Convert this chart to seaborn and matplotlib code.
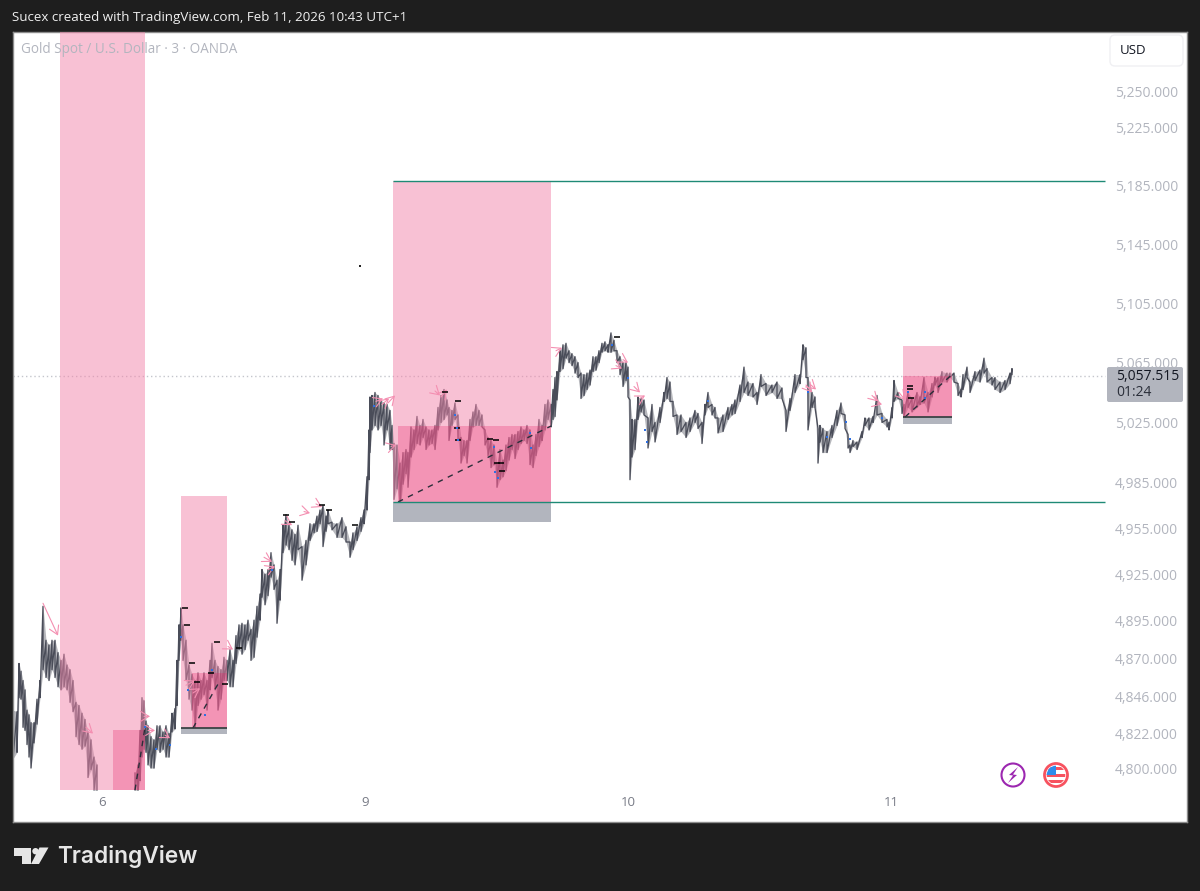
import matplotlib
matplotlib.use("Agg")
import matplotlib.pyplot as plt
from matplotlib.patches import Circle, FancyBboxPatch, Polygon, Rectangle, Wedge
from matplotlib.ticker import FixedLocator, FuncFormatter, NullLocator
import numpy as np
import pandas as pd
import seaborn as sns

# Chart columns, high and low of each column
bars = [13,17,19,21,23,25,27,29,31,34,
        37,40,43,46,49,52,55,58,61,64,
        67,70,73,76,79,82,85,88,91,94,
        97,135,138,140,142,144,146,148,151,154,
        157,160,163,166,169,172,175,177,179,181,
        183,186,189,192,195,198,201,204,207,210,
        212,215,218,221,224,227,230,233,236,239,
        242,245,248,251,254,257,260,262,265,268,
        271,274,277,280,283,286,289,292,295,298,
        302,306,310,314,317,320,323,326,328,332,
        337,342,346,350,353,357,361,364,367,369,
        370,372,375,378,381,384,387,390,392,394,
        397,400,403,406,408,411,414,417,420,423,
        426,429,432,435,438,441,444,447,449,452,
        455,458,461,464,467,470,473,476,479,482,
        485,488,491,494,497,500,503,506,509,512,
        515,518,521,524,527,530,533,536,539,542,
        545,548,551,553,555,557,560,563,566,569,
        572,575,578,581,584,587,590,593,596,599,
        602,605,608,611,614,617,620,623,626,628,
        630,632,635,638,641,644,648,652,655,660,
        664,667,670,673,677,681,686,690,695,698,
        702,705,708,712,715,718,723,728,732,735,
        740,744,748,753,757,761,766,772,777,782,
        786,790,795,800,803,806,808,812,815,818,
        820,823,827,832,837,841,845,848,850,853,
        857,862,865,869,873,877,882,887,889,892,
        894,898,902,904,908,912,917,920,924,928,
        932,935,938,942,947,950,954,958,961,963,
        967,970,975,980,984,987,992,995,1000,1005,
        1010,1012]
highs = [4837,4836,4867,4862,4856,4850,4837,4834,4829,4829,
         4844,4856,4904,4882,4879,4882,4882,4874,4869,4873,
         4866,4863,4856,4842,4840,4835,4831,4823,4818,4807,
         4802,4797,4802,4824,4845,4843,4830,4827,4820,4818,
         4827,4827,4823,4827,4822,4835,4838,4869,4892,4903,
         4892,4882,4866,4860,4856,4861,4856,4861,4856,4869,
         4880,4869,4865,4863,4871,4869,4876,4869,4885,4892,
         4893,4892,4895,4889,4895,4904,4912,4928,4925,4928,
         4939,4931,4921,4928,4957,4964,4957,4954,4951,4957,
         4943,4947,4958,4958,4963,4967,4970,4963,4967,4959,
         4958,4962,4956,4946,4952,4956,4962,4967,4989,5020,
         5042,5043,5045,5043,5040,5038,5037,5033,5023,5011,
         5010,4998,5005,5007,5005,5022,5020,5029,5023,5027,
         5022,5020,5020,5023,5035,5043,5047,5040,5035,5033,
         5038,5030,5015,5013,5013,5027,5032,5037,5033,5030,
         5020,5015,5013,5010,4998,5007,5000,5010,5015,5017,
         5017,5019,5022,5020,5023,5020,5010,5017,5027,5023,
         5037,5040,5037,5047,5055,5059,5073,5077,5078,5073,
         5071,5069,5065,5058,5057,5058,5060,5069,5069,5073,
         5078,5079,5077,5085,5080,5073,5069,5065,5065,5062,
         5040,5027,5027,5042,5041,5040,5028,5037,5025,5035,
         5045,5055,5052,5039,5030,5030,5025,5028,5033,5031,
         5025,5037,5045,5037,5035,5028,5030,5035,5037,5040,
         5050,5062,5052,5051,5045,5057,5051,5050,5052,5048,
         5033,5041,5057,5057,5077,5075,5055,5045,5042,5021,
         5023,5021,5019,5023,5033,5038,5030,5017,5010,5013,
         5012,5019,5028,5028,5029,5043,5031,5027,5025,5035,
         5053,5045,5040,5037,5045,5041,5045,5042,5055,5045,
         5051,5055,5055,5059,5058,5058,5058,5051,5047,5057,
         5062,5052,5059,5060,5068,5061,5055,5055,5052,5053,
         5058,5061]
lows = [4806,4810,4845,4844,4826,4824,4815,4807,4800,4816,
        4828,4845,4863,4858,4856,4863,4858,4852,4850,4852,
        4850,4842,4836,4820,4815,4812,4814,4794,4799,4786,
        4786,4786,4786,4792,4807,4812,4810,4802,4800,4800,
        4812,4810,4812,4807,4807,4823,4825,4840,4869,4882,
        4869,4856,4844,4837,4825,4840,4844,4847,4837,4850,
        4858,4850,4837,4844,4856,4856,4852,4852,4867,4876,
        4873,4876,4882,4869,4871,4884,4895,4910,4905,4911,
        4923,4915,4893,4908,4939,4944,4941,4934,4931,4941,
        4921,4931,4947,4952,4953,4958,4943,4953,4958,4954,
        4949,4949,4946,4936,4941,4947,4953,4958,4967,4987,
        5005,5020,5023,5020,5023,5010,5020,5007,5007,4974,
        4981,4968,4984,4991,4982,5002,5007,5011,5010,5015,
        5007,5010,5011,5007,5020,5025,5027,5030,5013,5023,
        5027,5013,4998,5003,4998,5013,5022,5023,5023,5022,
        5010,5003,4995,4997,4982,4987,4989,4993,5000,5007,
        5001,5007,5011,5013,5011,4997,4995,5003,5009,5013,
        5020,5027,5022,5027,5029,5040,5059,5061,5068,5065,
        5063,5058,5055,5041,5043,5047,5050,5059,5060,5065,
        5072,5073,5072,5072,5073,5065,5057,5049,5053,5042,
        4987,5002,5007,5027,5032,5030,5008,5019,5012,5025,
        5039,5041,5039,5029,5017,5019,5015,5019,5025,5021,
        5011,5030,5035,5030,5028,5018,5019,5027,5030,5031,
        5039,5045,5043,5042,5037,5049,5043,5045,5041,5041,
        5019,5033,5045,5051,5067,5055,5020,5035,5035,4998,
        5012,5005,5005,5015,5023,5031,5021,5008,5005,5009,
        5007,5015,5023,5020,5025,5030,5025,5022,5020,5028,
        5039,5041,5031,5029,5035,5032,5035,5037,5038,5032,
        5042,5050,5045,5052,5052,5055,5052,5043,5042,5047,
        5055,5045,5053,5052,5058,5052,5050,5047,5045,5047,
        5051,5057]

# Axis
session_bars = [102, 365, 628, 891]
session_labels = ["6", "9", "10", "11"]
price_ticks = [4800, 4822, 4846, 4870, 4895, 4925, 4955, 4985, 5025, 5065, 5105, 5145, 5185, 5225, 5250]
last_price = "5,057.515"
countdown = "01:24"
price_line = 5056

# Position boxes: left, right, top, entry top, entry left, entry bottom, stop bottom
box_left = [60, 181, 393, 903]
box_right = [145, 227, 551, 952]
box_top = [5300, 4976, 5188.4, 5076]
entry_left = [113, 192, 398, 903]
entry_top = [4824, 4861, 5022.6, 5056]
entry_bottom = [4786, 4825.6, 4972.3, 5028.6]
stop_bottom = [4786, 4822, 4959, 5024]

# Range lines
level_prices = [5188.4, 4972.3]
level_from = 393
level_to = 1105

# Dashed trend lines inside boxes
trend_x0 = [135, 193, 398, 905]
trend_y0 = [4786, 4825.6, 4972.3, 5028.6]
trend_x1 = [145, 220, 551, 952]
trend_y1 = [4826, 4856, 5022.6, 5057]

# Pink arrows
arrow_x0 = [43, 86, 144, 148, 165, 186, 193, 228, 264, 268, 285, 304, 316, 376, 382, 388, 391, 435, 441, 556, 616, 623, 634, 640, 806, 811, 872, 877, 899]
arrow_p0 = [4906, 4826, 4833, 4824, 4821, 4853, 4848, 4878, 4936, 4928, 4960, 4966, 4971, 5039, 5037, 5038, 5009, 5046, 5042, 5073, 5063, 5067, 5049, 5041, 5050, 5050, 5043, 5038, 5045]
arrow_x1 = [58, 93, 150, 155, 170, 195, 200, 233, 272, 275, 292, 310, 322, 383, 389, 395, 396, 440, 447, 562, 622, 628, 640, 645, 812, 816, 878, 882, 905]
arrow_p1 = [4885, 4822, 4833, 4824, 4819, 4856, 4851, 4876, 4933, 4930, 4957, 4965, 4969, 5041, 5041, 5043, 5010, 5043, 5047, 5075, 5061, 5065, 5045, 5043, 5045, 5047, 5039, 5037, 5040]

# Black swing flags
flag_bars = [185, 187, 192, 197, 211, 217, 225, 239, 286, 292, 322, 329, 355, 445, 458, 457, 458, 490, 496, 497, 501, 502, 617, 910, 910, 911]
flag_prices = [4903, 4892, 4867, 4855, 4861, 4881, 4854, 4877, 4964, 4959, 4970, 4967, 4957, 5045, 5039, 5021, 5013, 5014, 5013, 4998, 4998, 4993, 5082, 5049, 5047, 5041]

# Small blue signals
signal_bars = [181, 188, 205, 212, 145, 156, 170, 272, 374, 455, 457, 458, 494, 495, 498, 530, 531, 612, 628, 645, 647, 708, 846, 850, 882, 808, 827, 908, 925, 925]
signal_prices = [4884, 4850, 4834, 4863, 4826, 4812, 4815, 4928, 5036, 5030, 5021, 5013, 5009, 4992, 4988, 5018, 5008, 5077, 5055, 5020, 5012, 5039, 5025, 5014, 5028, 5045, 5015, 5045, 5045, 5041]

stray_bar = [360]
stray_price = [5130]

sns.set_theme(style="white")
plt.rcParams["font.family"] = ["Open Sans", "DejaVu Sans"]

bg = "#1e1e1e"
fig = plt.figure(figsize=(12, 8.91), dpi=100, facecolor=bg)
ax = fig.add_axes([13 / 1200, 69 / 891, 1174 / 1200, 790 / 891])
ax.set_facecolor("white")

# Zigzag through each column's high and low, two legs around the hidden stretch
candle_color = "#4a4d59"
candles = pd.DataFrame({"bar": bars, "high": highs, "low": lows})
candles["leg"] = (candles["bar"] > 100).astype(int)
candles["order"] = range(len(candles))
long_df = candles.melt(id_vars=["bar", "leg", "order"], value_vars=["high", "low"], value_name="price")
long_df = long_df.sort_values(["order", "variable"]).reset_index(drop=True)
sns.lineplot(data=long_df, x="bar", y="price", units="leg", estimator=None, sort=False,
             color=candle_color, linewidth=0.95, ax=ax)
ax.fill_between(candles["bar"], candles["low"], candles["high"],
                where=candles["leg"] == 0, color=candle_color, alpha=0.4, lw=0)
ax.fill_between(candles["bar"], candles["low"], candles["high"],
                where=candles["leg"] == 1, color=candle_color, alpha=0.4, lw=0)

ax.set_yscale("log")
ax.set_xlim(13, 1187)
ax.set_ylim(4765.8, 5291.9)

# Position boxes over the candles, washed so the candles turn mauve
for i in range(len(box_left)):
    ax.add_patch(Rectangle((box_left[i], entry_bottom[i]), box_right[i] - box_left[i], box_top[i] - entry_bottom[i],
                           fc="#f385ab", alpha=0.5, lw=0, zorder=3))
    ax.add_patch(Rectangle((entry_left[i], entry_bottom[i]), box_right[i] - entry_left[i], entry_top[i] - entry_bottom[i],
                           fc="#e91e63", alpha=0.27, lw=0, zorder=3))
    if stop_bottom[i] < entry_bottom[i]:
        ax.add_patch(Rectangle((box_left[i], stop_bottom[i]), box_right[i] - box_left[i], entry_bottom[i] - stop_bottom[i],
                               fc="#b2b5be", lw=0, zorder=3))
    ax.plot([trend_x0[i], trend_x1[i]], [trend_y0[i], trend_y1[i]], color="#2a2e39", lw=1,
            ls=(0, (4, 4)), zorder=4)

ax.hlines(entry_bottom[1], box_left[1], box_right[1], color="#2f3a3a", lw=1.2, zorder=4)
ax.hlines(entry_bottom[3], box_left[3], box_right[3], color="#2f3a3a", lw=1.2, zorder=4)
ax.hlines(level_prices, level_from, level_to, color="#1f8a76", lw=1, zorder=4)
ax.hlines(price_line, 13, level_to, color="#c4c6cc", lw=1, ls=(0, (1, 2)), zorder=1)

for x0, p0, x1, p1 in zip(arrow_x0, arrow_p0, arrow_x1, arrow_p1):
    ax.annotate("", xy=(x1, p1), xytext=(x0, p0), zorder=5,
                arrowprops=dict(arrowstyle="->,head_length=0.5,head_width=0.3", color="#f48fb1",
                                lw=0.8, shrinkA=0, shrinkB=0))

sns.scatterplot(x=flag_bars, y=flag_prices, marker="_", s=16, color="black", linewidth=1.1, ax=ax, zorder=6)
sns.scatterplot(x=signal_bars, y=signal_prices, marker="s", s=3, color="#2f6fe0", linewidth=0, ax=ax, zorder=6)
sns.scatterplot(x=stray_bar, y=stray_price, marker="s", s=2, color="#222222", linewidth=0, ax=ax, zorder=6)

# Axis text sits inside the white panel
ax.yaxis.tick_right()
ax.yaxis.set_major_locator(FixedLocator(price_ticks))
ax.yaxis.set_minor_locator(NullLocator())
ax.yaxis.set_major_formatter(FuncFormatter(lambda v, _: f"{v:,.3f}"))
ax.tick_params(axis="y", which="both", length=0, pad=-52, labelsize=10, labelcolor="#b2b5be")
ax.set_xticks(session_bars)
ax.set_xticklabels(session_labels)
ax.tick_params(axis="x", length=0, pad=-19, labelsize=9.5, labelcolor="#787b86")
ax.set_xlabel("")
ax.set_ylabel("")
for s in ax.spines.values():
    s.set_edgecolor("#8c8c8c")
    s.set_linewidth(1)

# Page furniture drawn in figure pixels
top = fig.add_axes([0, 0, 1, 1], zorder=10)
top.set_axis_off()
top.patch.set_alpha(0)
top.set_xlim(0, 1200)
top.set_ylim(891, 0)

top.text(12, 18, "Sucex created with TradingView.com, Feb 11, 2026 10:43 UTC+1", color="#f0f0f0",
         fontsize=9.6, va="center", ha="left")
top.text(21, 49.5, "Gold Spot / U.S. Dollar · 3 · OANDA", color="#b2b5be", fontsize=9.75, va="center", ha="left")

top.add_patch(FancyBboxPatch((1113, 38), 67, 25, boxstyle="round,pad=3,rounding_size=5", fc="white", ec="#f0f0f3", lw=1))
top.text(1120, 50, "USD", color="#131722", fontsize=9.5, va="center", ha="left")

top.add_patch(FancyBboxPatch((1109, 369), 72, 31, boxstyle="round,pad=2,rounding_size=2", fc="#b2b5be", ec="none"))
top.text(1116, 377, last_price, color="#131722", fontsize=10, va="center", ha="left")
top.text(1116, 392, countdown, color="#2a2e39", fontsize=10, va="center", ha="left")

# Purple flash icon
top.add_patch(Circle((1013, 775), 11.5, fc="white", ec="#9c27b0", lw=1.5))
top.add_patch(Polygon([(1018, 767), (1009, 775), (1013, 775.5), (1008, 783), (1017, 775), (1013, 774.5)],
                      fc="#9c27b0", ec="none"))

# Flag icon
top.add_patch(Circle((1056, 775), 11.5, fc="white", ec="#f7525f", lw=2))
for y0, h in [(767, 3.3), (773.5, 3.3), (780, 3.3)]:
    clip = Circle((1056, 775), 9.3, transform=top.transData)
    r = Rectangle((1045, y0), 22, h, fc="#f7525f", ec="none")
    top.add_patch(r)
    r.set_clip_path(clip)
canton = Wedge((1056, 775), 9.3, 180, 270, fc="#2f8ceb", ec="none")
top.add_patch(canton)

# TradingView logo
logo = "#e6e6e6"
top.add_patch(Polygon([(14, 848), (30.5, 848), (30.5, 864), (22, 864), (22, 855.5), (14, 855.5)], fc=logo, ec="none"))
top.add_patch(Circle((35.5, 851.2), 3.2, fc=logo, ec="none"))
top.add_patch(Polygon([(39.5, 847.5), (48.5, 847.5), (39, 864), (31, 864)], fc=logo, ec="none"))
top.text(57, 857, "TradingView", color=logo, fontsize=16.4, fontweight="semibold", fontfamily="Inter",
         va="center", ha="left")

fig.savefig("out.png", dpi=100, facecolor=bg)
